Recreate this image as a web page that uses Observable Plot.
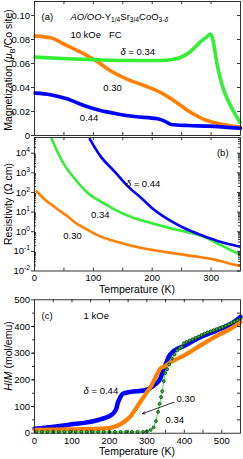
<!DOCTYPE html>
<html>
<head>
<meta charset="utf-8">
<script src="https://cdn.jsdelivr.net/npm/d3@7"></script>
<script src="https://cdn.jsdelivr.net/npm/@observablehq/plot@0.6"></script>
<style>
html,body{margin:0;padding:0;background:#fff;}
#wrap{position:relative;width:243px;height:459px;overflow:hidden;}
#wrap svg{position:absolute;left:0;overflow:visible;}
</style>
</head>
<body>
<div id="wrap"></div>
<script>
// ---------------- data ----------------
// (a) magnetization, 10 kOe FC
const magTicks = [0, 0.02, 0.04, 0.06, 0.08, 0.10];
const magTickLabels = ["0", "0.02", "0.04", "0.06", "0.08", "0.10"];
const magT030 = [1, 27, 55, 84, 104, 129, 157, 186, 214, 237, 265, 293, 321, 350];
const magM030 = [0.0828, 0.0814, 0.0750, 0.0680, 0.0625, 0.0540, 0.0470, 0.0417, 0.0360, 0.0290, 0.0194, 0.0125, 0.0092, 0.0070];
const magT034 = [1, 55, 112, 169, 214, 236, 248, 265, 282, 292, 299, 303, 306, 310, 315, 320, 328, 339, 349];
const magM034 = [0.0653, 0.0640, 0.0630, 0.0625, 0.0625, 0.0635, 0.0650, 0.0700, 0.0780, 0.0820, 0.0845, 0.0800, 0.0720, 0.0600, 0.0490, 0.0400, 0.0300, 0.0194, 0.0110];
const magT044 = [1, 27, 55, 84, 112, 141, 170, 209, 221, 232, 261, 295, 350];
const magM044 = [0.0353, 0.0340, 0.0306, 0.0250, 0.0208, 0.0180, 0.0158, 0.0139, 0.0120, 0.0092, 0.0083, 0.0078, 0.0060];

// (b) resistivity (Ohm cm)
const resTicks = [0.01, 0.1, 1, 10, 100, 1000, 10000];
const resTickExps = ["-2", "-1", "0", "1", "2", "3", "4"];
const tempTicksB = [0, 100, 200, 300];
const resT030 = [3.4, 16, 37, 55.5, 70, 84, 112.6, 141, 170, 198, 226.5, 255, 283, 306, 329, 350];
const resR030 = [115, 48, 15.8, 6.3, 2.8, 1.58, 0.56, 0.30, 0.178, 0.12, 0.089, 0.066, 0.050, 0.038, 0.025, 0.018];
const resT034 = [29, 38.5, 50, 67, 89.5, 112, 124, 143, 170, 198, 226.5, 255, 283, 306, 329, 350];
const resR034 = [56000, 12600, 2800, 560, 100, 35, 22, 10.5, 4.9, 2.75, 1.62, 1.02, 0.62, 0.30, 0.135, 0.066];
const resT044 = [94, 112, 135, 157, 186, 198, 226.5, 255, 283, 311, 339, 350];
const resR044 = [52500, 7100, 1260, 230, 39, 17.8, 4.4, 1.51, 0.68, 0.34, 0.204, 0.17];

// (c) H/M (mol/emu), 1 kOe
const hmTicks = [0, 100, 200, 300, 400, 500];
const tempTicksC = [0, 100, 200, 300, 400, 500];
const hmT044 = [0, 89, 178, 205, 218, 222, 227, 236, 256, 292, 318, 336, 343, 350, 359, 372, 399, 443, 488, 532, 550];
const hmV044 = [17, 31, 53, 68, 90, 112, 129, 148, 155, 160, 178, 205, 235, 258, 288, 308, 327, 360, 386, 416, 436];
const hmT030 = [0, 178, 205, 231, 258, 276, 294, 312, 327, 336, 345, 363, 399, 443, 488, 523, 550];
const hmV030 = [12.7, 17, 21, 35, 66, 104, 141, 179, 220, 242, 249, 266, 291, 329, 366, 391, 416];
const hmT034 = [5, 20, 35, 50, 65, 80, 95, 110, 125, 140, 155, 170, 185, 200, 215, 230, 245, 260, 275, 290, 300, 310, 318, 324, 330, 334, 338, 341, 345, 349, 354, 360, 367, 374, 381, 388, 393, 399, 406, 414, 422, 430, 438, 446, 454, 462, 470, 478, 486, 494, 502, 510, 518, 526, 534, 542, 550];
const hmV034 = [5, 5, 5, 5, 5, 5, 5, 5, 5, 5, 5, 5, 5, 5, 5, 5, 5, 5, 5, 5, 7, 12, 22, 45, 80, 110, 135, 157, 195, 225, 240, 258, 280, 295, 310, 318, 324, 337, 342, 347, 352, 357, 362, 368, 373, 378, 382, 386, 390, 394, 398, 403, 408, 413, 418, 423, 429];

// annotations
const annA = [
  {t: 12, v: 0.0992, s: "(a)"},
  {t: 61, v: 0.0992, s: "{i}AO/OO{/i}-Y{sub}1/4{/sub}Sr{sub}3/4{/sub}CoO{sub}3-{i}δ{/i}{/sub}"},
  {t: 61, v: 0.0839, s: "10 kOe   FC"},
  {t: 146, v: 0.0696, s: "{i}δ{/i} = 0.34"},
  {t: 117, v: 0.0400, s: "0.30"},
  {t: 77, v: 0.0150, s: "0.44"}
];
const annB = [
  {t: 310, v: 10000, s: "(b)"},
  {t: 155, v: 286, s: "{i}δ{/i} = 0.44"},
  {t: 96, v: 7.0, s: "0.34"},
  {t: 49, v: 0.645, s: "0.30"}
];
const annC = [
  {t: 19, v: 441, s: "(c)"},
  {t: 131, v: 441, s: "1 kOe"},
  {t: 131, v: 160, s: "{i}δ{/i} = 0.44"},
  {t: 379, v: 127, s: "0.30"},
  {t: 350, v: 51, s: "0.34"}
];
const arrowC = [{x1: 372, y1: 116, x2: 288, y2: 73}];

// ---------------- drawing ----------------
const ORANGE = "#ff8000", GREEN = "#33ee33", BLUE = "#0000ff";
const FONT = '"Liberation Sans Narrow","Liberation Sans",Arial,sans-serif';
const W = 243, ML = 34, MR = 3, FW = W - ML - MR;
const TICK = 9.5, TITLE = 10.5, ANN = 9.5;
const SW = 0.8;
const toPts = (ts, vs) => ts.map((t, i) => ({t, v: vs[i]}));
const minorT350 = [50, 100, 150, 200, 250, 300];
const minorT550 = [50, 100, 150, 200, 250, 300, 350, 400, 450, 500];
const minorHM = [50, 100, 150, 200, 250, 300, 350, 400, 450];
const minorLog = [];
for (let e = -2; e <= 4; e++) for (let m = 2; m <= 9; m++) if (m * 10 ** e < 63000) minorLog.push(+(m * 10 ** e).toPrecision(3));

function xTicksIn(vals, fh, len = 3) {
  return [
    Plot.tickX(vals, {x: d => d, insetTop: fh - len, strokeWidth: SW}),
    Plot.tickX(vals, {x: d => d, insetBottom: fh - len, strokeWidth: SW})
  ];
}
function yTicksRight(vals, len = 3) { return Plot.tickY(vals, {y: d => d, insetLeft: FW - len, strokeWidth: SW}); }
function yTicksLeftIn(vals, len = 3) { return Plot.tickY(vals, {y: d => d, insetRight: FW - len, strokeWidth: SW}); }

function setRich(node, markup, base) {
  const el = d3.select(node);
  el.text(null);
  const toks = markup.split(/(\{\/?(?:i|sub|sup)\})/);
  let italic = false, mode = 0, cur = 0;
  for (const tok of toks) {
    if (tok === "{i}") { italic = true; continue; }
    if (tok === "{/i}") { italic = false; continue; }
    if (tok === "{sub}") { mode = 1; continue; }
    if (tok === "{sup}") { mode = -1; continue; }
    if (tok === "{/sub}" || tok === "{/sup}") { mode = 0; continue; }
    if (!tok) continue;
    const target = mode === 1 ? 0.28 * base : mode === -1 ? -0.42 * base : 0;
    const ts = el.append("tspan").text(tok);
    if (italic) ts.attr("font-style", "italic");
    if (mode !== 0) ts.attr("font-size", (0.7 * base).toFixed(2));
    if (target !== cur) ts.attr("dy", (target - cur).toFixed(2));
    cur = target;
  }
}
function richAll(svg) {
  d3.select(svg).selectAll("text").each(function () {
    const t = this.textContent;
    if (t.includes("{")) setRich(this, t, parseFloat(getComputedStyle(this).fontSize) || TICK);
  });
}
function addTitle(svg, x, y, markup, rotate) {
  const t = d3.select(svg).append("text")
    .attr("transform", `translate(${x},${y})${rotate ? " rotate(-90)" : ""}`)
    .attr("text-anchor", "middle").attr("font-size", TITLE).attr("fill", "black");
  setRich(t.node(), markup, TITLE);
}
const style = {fontFamily: FONT, fontSize: TICK + "px", background: "none", overflow: "visible", color: "black"};
const wrap = document.getElementById("wrap");

// ---- panel (a)
{
  const H = 136, mt = 1, mb = 1, fh = H - mt - mb;
  const svg = Plot.plot({
    width: W, height: H, marginLeft: ML, marginRight: MR, marginTop: mt, marginBottom: mb, style,
    x: {domain: [0, 350], axis: null},
    y: {domain: [0, 0.1117], axis: null},
    marks: [
      Plot.line(toPts(magT030, magM030), {x: "t", y: "v", stroke: ORANGE, strokeWidth: 3.6, curve: "monotone-x"}),
      Plot.line(toPts(magT034, magM034), {x: "t", y: "v", stroke: GREEN, strokeWidth: 3.6, curve: "monotone-x"}),
      Plot.line(toPts(magT044, magM044), {x: "t", y: "v", stroke: BLUE, strokeWidth: 3.6, curve: "monotone-x"}),
      Plot.frame({stroke: "black", strokeWidth: SW}),
      Plot.axisY(magTicks, {tickSize: 3, tickPadding: 1.5, strokeWidth: SW, label: null,
        tickFormat: d => magTickLabels[magTicks.indexOf(d)]}),
      yTicksRight(magTicks),
      ...xTicksIn(minorT350, fh),
      Plot.text(annA, {x: "t", y: "v", text: "s", textAnchor: "start", fontSize: ANN})
    ]
  });
  svg.style.top = "0px";
  wrap.appendChild(svg);
  richAll(svg);
  addTitle(svg, 12, 70, "Magnetization ({i}μ{/i}{sub}B{/sub}/Co site)", true);
}

// ---- panel (b)
{
  const top = 136, H = 164, mt = 1, mb = 29.5, fh = H - mt - mb;
  const svg = Plot.plot({
    width: W, height: H, marginLeft: ML, marginRight: MR, marginTop: mt, marginBottom: mb, style,
    x: {domain: [0, 350], axis: null},
    y: {type: "log", domain: [0.01, 63000], axis: null},
    marks: [
      Plot.line(toPts(resT030, resR030), {x: "t", y: "v", stroke: ORANGE, strokeWidth: 2.6, curve: "monotone-x", clip: true}),
      Plot.line(toPts(resT034, resR034), {x: "t", y: "v", stroke: GREEN, strokeWidth: 2.6, curve: "monotone-x", clip: true}),
      Plot.line(toPts(resT044, resR044), {x: "t", y: "v", stroke: BLUE, strokeWidth: 2.6, curve: "monotone-x", clip: true}),
      Plot.frame({stroke: "black", strokeWidth: SW}),
      Plot.axisY(resTicks, {tickSize: 3, tickPadding: 1.5, strokeWidth: SW, label: null,
        tickFormat: d => "10{sup}" + resTickExps[resTicks.indexOf(d)] + "{/sup}"}),
      yTicksRight(resTicks),
      yTicksLeftIn(minorLog, 2),
      yTicksRight(minorLog, 2),
      ...xTicksIn(minorT350, fh),
      Plot.axisX(tempTicksB, {tickSize: 0, tickPadding: 3.5, label: null}),
      Plot.text(annB, {x: "t", y: "v", text: "s", textAnchor: "start", fontSize: ANN})
    ]
  });
  svg.style.top = top + "px";
  wrap.appendChild(svg);
  richAll(svg);
  addTitle(svg, 12, 68, "Resistivity (Ω cm)", true);
  addTitle(svg, ML + FW / 2, 157, "Temperature (K)", false);
}

// ---- panel (c)
{
  const top = 298, H = 161, mt = 1.3, mb = 26.3, fh = H - mt - mb;
  const svg = Plot.plot({
    width: W, height: H, marginLeft: ML, marginRight: MR, marginTop: mt, marginBottom: mb, style,
    x: {domain: [0, 550], axis: null},
    y: {domain: [0, 500], axis: null},
    marks: [
      Plot.line(toPts(hmT044, hmV044), {x: "t", y: "v", stroke: BLUE, strokeWidth: 4.5, curve: "monotone-x"}),
      Plot.line(toPts(hmT030, hmV030), {x: "t", y: "v", stroke: ORANGE, strokeWidth: 4.2, curve: "monotone-x"}),
      Plot.line(toPts(hmT034, hmV034), {x: "t", y: "v", stroke: GREEN, strokeWidth: 1, curve: "linear"}),
      Plot.dot(toPts(hmT034, hmV034), {x: "t", y: "v", r: 1.45, stroke: "#0b4f0b", fill: "#3cb83c", strokeWidth: 0.9}),
      Plot.frame({stroke: "black", strokeWidth: SW}),
      Plot.axisY(hmTicks, {tickSize: 3, tickPadding: 1.5, strokeWidth: SW, label: null}),
      Plot.axisY(minorHM, {tickSize: 2, strokeWidth: SW, label: null, tickFormat: () => ""}),
      yTicksRight(minorHM),
      ...xTicksIn(minorT550, fh),
      Plot.axisX(tempTicksC, {tickSize: 0, tickPadding: 4, label: null}),
      Plot.arrow(arrowC, {x1: "x1", y1: "y1", x2: "x2", y2: "y2", stroke: "black", strokeWidth: 0.8, headLength: 5, headAngle: 45}),
      Plot.text(annC, {x: "t", y: "v", text: "s", textAnchor: "start", fontSize: ANN})
    ]
  });
  svg.style.top = top + "px";
  wrap.appendChild(svg);
  richAll(svg);
  addTitle(svg, 12, 58, "{i}H{/i}/{i}M{/i} (mol/emu)", true);
  addTitle(svg, ML + FW / 2, 157, "Temperature (K)", false);
}
</script>
</body>
</html>
